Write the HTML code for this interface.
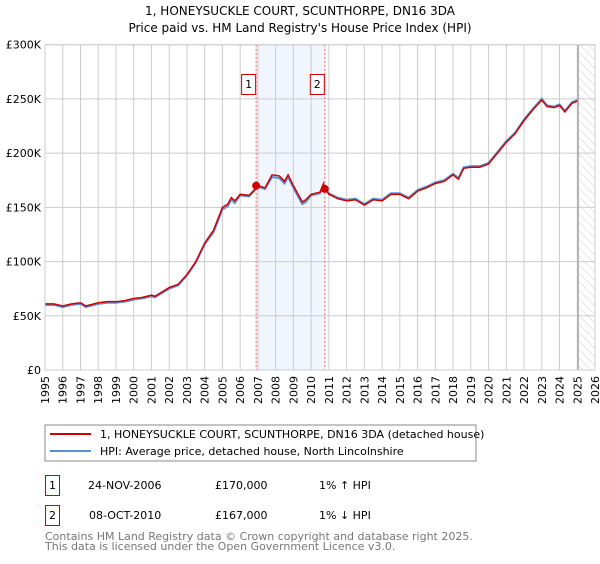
<!DOCTYPE html>
<html><head><meta charset="utf-8"><style>
body{margin:0;background:#fff;font-family:"DejaVu Sans","Liberation Sans",sans-serif;}
svg text{font-family:"DejaVu Sans","Liberation Sans",sans-serif;}
</style></head><body>
<svg id="chart" width="600" height="560" xmlns="http://www.w3.org/2000/svg">
<defs><pattern id="hatch" width="6" height="6" patternUnits="userSpaceOnUse" patternTransform="rotate(-45)"><line x1="0" y1="0" x2="0" y2="6" stroke="#ccc" stroke-width="1"/></pattern></defs>
<text x="300" y="15" text-anchor="middle" font-size="12">1, HONEYSUCKLE COURT, SCUNTHORPE, DN16 3DA</text>
<text x="300" y="32" text-anchor="middle" font-size="12">Price paid vs. HM Land Registry's House Price Index (HPI)</text>
<g id="grid"></g><g id="marks"></g><g id="axes"></g>
<rect x="45" y="425" width="431" height="36" fill="#fff" stroke="#888"/>
<line x1="50" y1="434" x2="91" y2="434" stroke="#cc0000" stroke-width="2"/>
<text x="100" y="438" font-size="11">1, HONEYSUCKLE COURT, SCUNTHORPE, DN16 3DA (detached house)</text>
<line x1="50" y1="451" x2="91" y2="451" stroke="#5b8fd4" stroke-width="2"/>
<text x="100" y="455" font-size="11">HPI: Average price, detached house, North Lincolnshire</text>
<g>
<rect x="45.5" y="475.5" width="14" height="20" fill="none" stroke="#cc0000"/>
<text x="52.5" y="489" text-anchor="middle" font-size="11">1</text>
<text x="88" y="489" font-size="11">24-NOV-2006</text>
<text x="215" y="489" font-size="11">£170,000</text>
<text x="319" y="489" font-size="11">1% ↑ HPI</text></g>
<g>
<rect x="45.5" y="505.5" width="14" height="20" fill="none" stroke="#cc0000"/>
<text x="52.5" y="519" text-anchor="middle" font-size="11">2</text>
<text x="89" y="519" font-size="11">08-OCT-2010</text>
<text x="215" y="519" font-size="11">£167,000</text>
<text x="319" y="519" font-size="11">1% ↓ HPI</text></g>
<text x="45" y="540" font-size="11" fill="#777">Contains HM Land Registry data © Crown copyright and database right 2025.</text>
<text x="45" y="550" font-size="11" fill="#777">This data is licensed under the Open Government Licence v3.0.</text>
</svg>
<script>
const years=[1995,1995.5,1996,1996.5,1997,1997.3,1998,1998.5,1999,1999.5,2000,2000.5,2001,2001.2,2001.6,2002,2002.5,2003,2003.5,2004,2004.5,2005,2005.3,2005.5,2005.7,2006,2006.5,2006.9,2007,2007.4,2007.8,2008.2,2008.5,2008.7,2009,2009.5,2009.7,2010,2010.5,2010.7,2010.78,2011,2011.5,2012,2012.5,2013,2013.5,2014,2014.5,2015,2015.5,2016,2016.5,2017,2017.5,2018,2018.3,2018.6,2019,2019.5,2020,2020.5,2021,2021.5,2022,2022.5,2023,2023.3,2023.7,2024,2024.3,2024.7,2025];
const priceK=[61,61,59,61,62,59,62,63,63,64,66,67,69,68,72,76,79,88,100,117,129,150,153,159,156,162,161,168,170,168,180,179,174,180,170,155,157,162,164,172,167,162,158,156,157,152,157,156,162,162,158,165,168,172,174,180,176,186,187,187,190,200,210,218,230,240,249,243,242,244,238,246,248];
const hpiK=[60,60,58,60,61,58,61,62,62,63,65,66,68,67,71,75,78,87,99,116,127,148,151,157,154,161,160,167,169,167,178,177,172,178,168,153,155,161,163,170,168,163,159,157,158,153,158,157,163,163,159,166,169,173,175,181,177,187,188,188,191,201,211,219,231,241,250,244,243,245,239,247,249];
const yTicks=[0,50,100,150,200,250,300];
const yTickLabels=["£0","£50K","£100K","£150K","£200K","£250K","£300K"];
const xTicks=[1995,1996,1997,1998,1999,2000,2001,2002,2003,2004,2005,2006,2007,2008,2009,2010,2011,2012,2013,2014,2015,2016,2017,2018,2019,2020,2021,2022,2023,2024,2025,2026];
const sales=[[2006.9,170],[2010.77,167]];
const sx=y=>45+(y-1995)*(550/31);
const sy=v=>370-v*(325.3/300);
const NS="http://www.w3.org/2000/svg";
function mk(p,t,a){const e=document.createElementNS(NS,t);for(const k in a)e.setAttribute(k,a[k]);p.appendChild(e);return e;}
const grid=document.getElementById('grid'),marks=document.getElementById('marks'),axes=document.getElementById('axes');
const bg=mk(grid,'rect',{x:sx(sales[0][0]),y:sy(300),width:sx(sales[1][0])-sx(sales[0][0]),height:sy(0)-sy(300),fill:'#eef3fc',opacity:0.8});


const ht=mk(grid,'rect',{x:sx(2025.1),y:sy(300),width:sx(2026)-sx(2025.1),height:sy(0)-sy(300),fill:'url(#hatch)'});


xTicks.forEach(t=>{const l=mk(grid,'line',{x1:sx(t),x2:sx(t),y1:sy(300),y2:sy(0),stroke:'#ccc'});


const tx=mk(axes,'text',{x:0,y:0,'font-size':11,transform:`translate(${sx(t)+4},${sy(0)+6}) rotate(-90)`,'text-anchor':'end'});tx.textContent=t;

});
yTicks.forEach((t,i)=>{const l=mk(grid,'line',{x1:45,x2:595,y1:sy(t),y2:sy(t),stroke:'#ccc'});


const tx=mk(axes,'text',{x:41,y:sy(t)+4,'font-size':11,'text-anchor':'end'});tx.textContent=yTickLabels[i];

});
const nl=mk(grid,'line',{x1:sx(2025.05),x2:sx(2025.05),y1:sy(300),y2:sy(0),stroke:'#888'});


const hp=mk(marks,'polyline',{points:years.map((y,i)=>sx(y)+','+sy(hpiK[i])).join(' '),fill:'none',stroke:'#5b8fd4','stroke-width':2});


const pp=mk(marks,'polyline',{points:years.map((y,i)=>sx(y)+','+sy(priceK[i])).join(' '),fill:'none',stroke:'#cc0000','stroke-width':1.5});


sales.forEach((s,i)=>{const v=mk(marks,'line',{x1:sx(s[0]),x2:sx(s[0]),y1:sy(300),y2:sy(0),stroke:'#e66','stroke-dasharray':'2,2'});


const c=mk(marks,'circle',{cx:sx(s[0]),cy:sy(s[1]),r:4,fill:'#cc0000'});


const b=mk(marks,'rect',{x:sx(s[0])-14.5,y:74.5,width:14,height:20,fill:'#fff',stroke:'#cc0000'});


const t=mk(marks,'text',{x:sx(s[0])-7.5,y:88,'font-size':11,'text-anchor':'middle'});t.textContent=i+1;

});
const fr=mk(axes,'rect',{x:45,y:sy(300),width:550,height:sy(0)-sy(300),fill:'none',stroke:'#ccc'});


</script>
</body></html>
